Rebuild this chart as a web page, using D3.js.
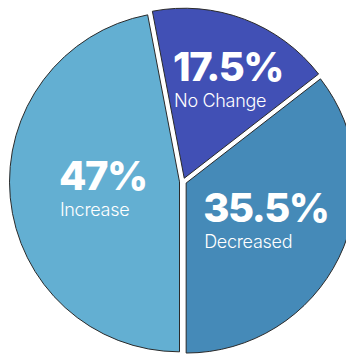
<!DOCTYPE html>
<html>
<head>
<meta charset="utf-8">
<script src="https://cdn.jsdelivr.net/npm/d3@7"></script>
<style>
  html, body { margin: 0; padding: 0; background: #fff; }
  text { font-family: Inter, "Noto Sans", sans-serif; fill: #fff; }
</style>
</head>
<body>
<div id="pie-chart"></div>
<script>
// Chart data
var categories = ["No Change", "Decreased", "Increase"],
    values = [17.5, 35.5, 47],
    valueLabels = ["17.5%", "35.5%", "47%"],
    colors = ["#4150b5", "#458ab8", "#63afd2"];

function draw() {
  "use strict";
  var width = 346,
      height = 354,
      cx = 183,
      cy = 181.5,
      radius = 170,
      explode = 3.5;

  var data = categories.map(function(c, i) {
    return { name: c, value: values[i], label: valueLabels[i], color: colors[i] };
  });

  var svg = d3.select('#pie-chart')
              .append('svg')
              .attr('width', width)
              .attr('height', height);

  var total = d3.sum(values);
  // Decreased / Increase boundary sits at 6 o'clock
  var start = Math.PI - 2 * Math.PI * (values[0] + values[1]) / total;

  var pie = d3.pie()
              .sort(null)
              .value(function(d) { return d.value; })
              .startAngle(start)
              .endAngle(start + 2 * Math.PI);

  var arc = d3.arc()
              .innerRadius(0)
              .outerRadius(radius);

  // label distance from centre and angle nudge (degrees) for each slice
  var labelRadius = [108, 87, 78],
      labelNudge = [2.6, -0.8, 0.8];

  var slices = svg.append('g')
                  .attr('transform', 'translate(' + cx + ',' + cy + ')')
                  .selectAll('g')
                  .data(pie(data))
                  .enter()
                  .append('g')
                  .attr('transform', function(d) {
                    var mid = (d.startAngle + d.endAngle) / 2;
                    return 'translate(' + (explode * Math.sin(mid)) + ',' + (-explode * Math.cos(mid)) + ')';
                  });

  slices.append('path')
        .attr('d', arc)
        .attr('fill', function(d) { return d.data.color; })
        .attr('stroke', '#2a2a2a')
        .attr('stroke-width', 1);

  var labels = slices.append('g')
                     .attr('transform', function(d, i) {
                       var mid = (d.startAngle + d.endAngle) / 2 + labelNudge[i] * Math.PI / 180,
                           r = labelRadius[i];
                       return 'translate(' + (r * Math.sin(mid)) + ',' + (-r * Math.cos(mid)) + ')';
                     });

  var big = labels.append('text')
                  .attr('y', 2)
                  .style('font-size', '40px')
                  .style('font-weight', 800)
                  .style('letter-spacing', '-1.5px')
                  .text(function(d) { return d.data.label; });

  labels.append('text')
        .attr('class', 'name')
        .attr('y', 28)
        .style('font-size', '18px')
        .style('font-weight', 300)
        .style('letter-spacing', '-0.3px')
        .text(function(d) { return d.data.name; });

  // left-align both lines on the wide number
  big.each(function() {
    var w = this.getComputedTextLength();
    d3.select(this).attr('x', -w / 2 + 1);
    d3.select(this.parentNode).select('.name').attr('x', -w / 2 + 2);
  });
}

draw();
</script>
</body>
</html>
